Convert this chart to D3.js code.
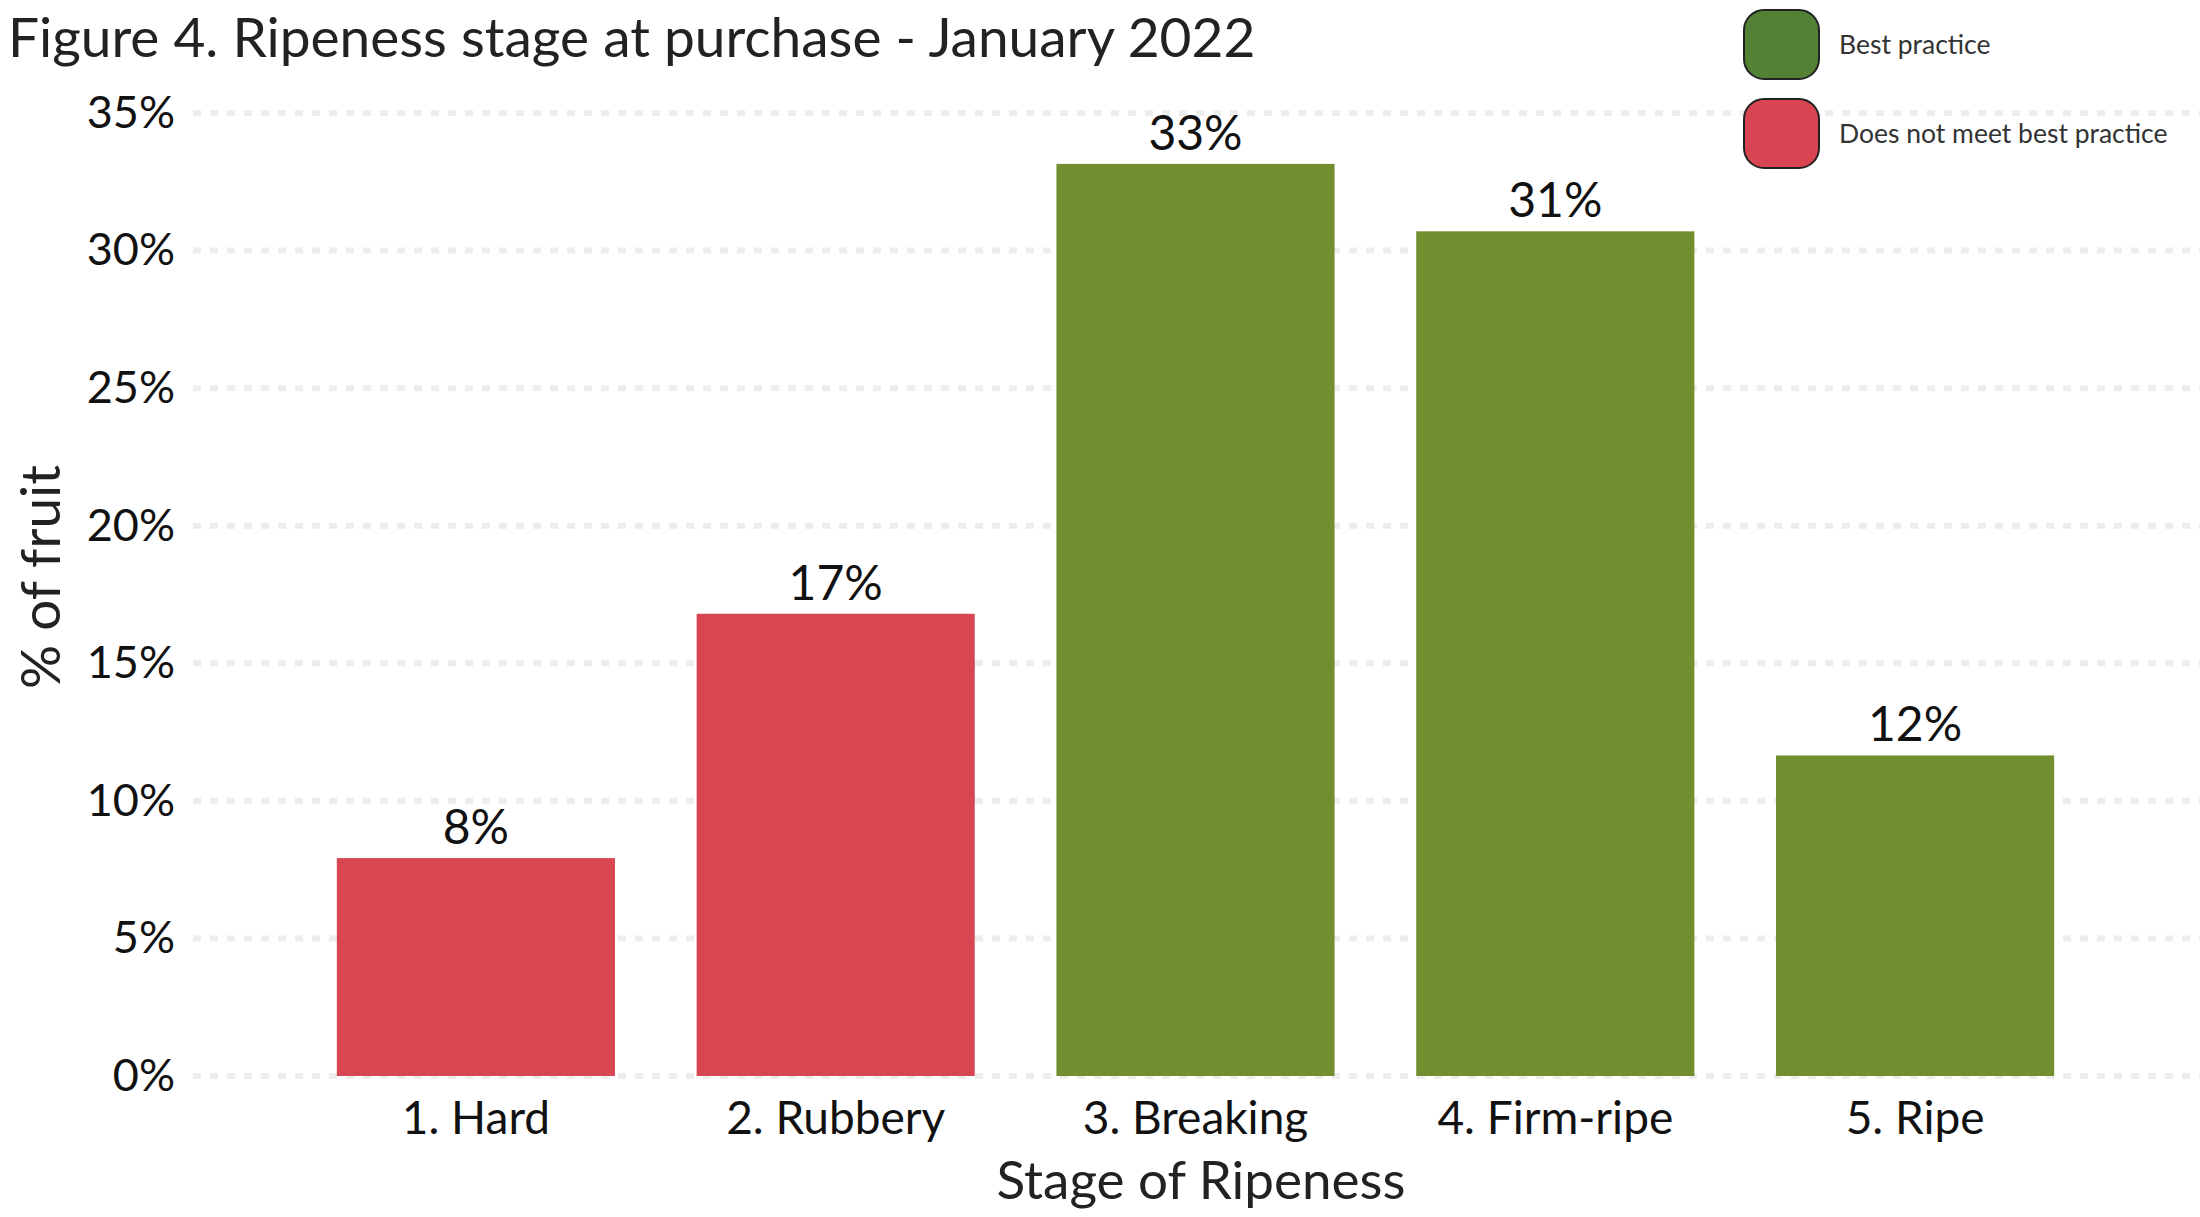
<!DOCTYPE html>
<html>
<head>
<meta charset="utf-8">
<script src="https://cdn.jsdelivr.net/npm/d3@7/dist/d3.min.js"></script>
<style>
  body { margin: 0; background: #fff; }
  text { font-family: Lato, "Open Sans", sans-serif; }
</style>
</head>
<body>
<svg id="chart" width="2200" height="1217"></svg>
<script>
// datos
const stages = ['1. Hard', '2. Rubbery', '3. Breaking', '4. Firm-ripe', '5. Ripe']
const shares = [7.92, 16.8, 33.15, 30.7, 11.65]
const labels = ['8%', '17%', '33%', '31%', '12%']
const practice = ['no', 'no', 'best', 'best', 'best']
const yTicks = [0, 5, 10, 15, 20, 25, 30, 35]
const legendItems = ['Best practice', 'Does not meet best practice']

const width = 2200, height = 1217
const svg = d3.select('#chart')

const x = d3.scaleBand()
    .domain(stages)
    .range([296, 2095])
    .paddingInner(0.227)
    .paddingOuter(0.1135)

const y = d3.scaleLinear()
    .domain([0, 35])
    .range([1076, 113])

const barColor = { best: '#718f2e', no: '#d84652' }
const legendColor = { best: '#548235', no: '#d94452' }

// lineas de grilla punteadas
svg.append('g')
    .selectAll('line')
    .data(yTicks)
    .join('line')
    .attr('x1', 193)
    .attr('x2', width)
    .attr('y1', d => y(d))
    .attr('y2', d => y(d))
    .attr('stroke', '#ededeb')
    .attr('stroke-width', 6)
    .attr('stroke-dasharray', '8,9')

// eje y
const yAxis = svg.append('g')
    .attr('transform', 'translate(193,0)')
    .call(d3.axisLeft(y).tickValues(yTicks).tickFormat(d => d + '%').tickSize(0).tickPadding(18))
yAxis.select('.domain').remove()
yAxis.selectAll('text')
    .attr('font-size', 45)
    .attr('fill', '#111')
    .style('font-family', 'Lato')

// barras
const data = stages.map((s, i) => ({ stage: s, value: shares[i], label: labels[i], type: practice[i] }))

svg.append('g')
    .selectAll('rect')
    .data(data)
    .join('rect')
    .attr('x', d => x(d.stage))
    .attr('y', d => y(d.value))
    .attr('width', x.bandwidth())
    .attr('height', d => y(0) - y(d.value))
    .attr('fill', d => barColor[d.type])

svg.append('g')
    .selectAll('text')
    .data(data)
    .join('text')
    .attr('x', d => x(d.stage) + x.bandwidth() / 2)
    .attr('y', d => y(d.value) - 14)
    .attr('text-anchor', 'middle')
    .attr('font-size', 48)
    .attr('fill', '#111')
    .text(d => d.label)

// eje x
const xAxis = svg.append('g')
    .attr('transform', `translate(0,${y(0)})`)
    .call(d3.axisBottom(x).tickSize(0).tickPadding(25))
xAxis.select('.domain').remove()
xAxis.selectAll('text')
    .attr('font-size', 46)
    .attr('fill', '#111')
    .style('font-family', 'Lato')

// titulos
svg.append('text')
    .attr('x', 8)
    .attr('y', 57)
    .attr('font-size', 55)
    .attr('fill', '#222')
    .text('Figure 4. Ripeness stage at purchase - January 2022')

svg.append('text')
    .attr('transform', 'translate(60,577) rotate(-90)')
    .attr('text-anchor', 'middle')
    .attr('font-size', 55)
    .attr('fill', '#222')
    .text('% of fruit')

svg.append('text')
    .attr('x', 1201)
    .attr('y', 1199)
    .attr('text-anchor', 'middle')
    .attr('font-size', 53)
    .attr('fill', '#222')
    .text('Stage of Ripeness')

// leyenda
const legend = svg.append('g')
    .selectAll('g')
    .data(legendItems)
    .join('g')
    .attr('transform', (d, i) => `translate(1744,${10 + i * 89})`)

legend.append('rect')
    .attr('width', 75)
    .attr('height', 69)
    .attr('rx', 20)
    .attr('fill', (d, i) => i === 0 ? legendColor.best : legendColor.no)
    .attr('stroke', '#222')
    .attr('stroke-width', 2)

legend.append('text')
    .attr('x', 95)
    .attr('y', 44)
    .attr('font-size', 26.5)
    .attr('fill', '#333')
    .text(d => d)
</script>
</body>
</html>
